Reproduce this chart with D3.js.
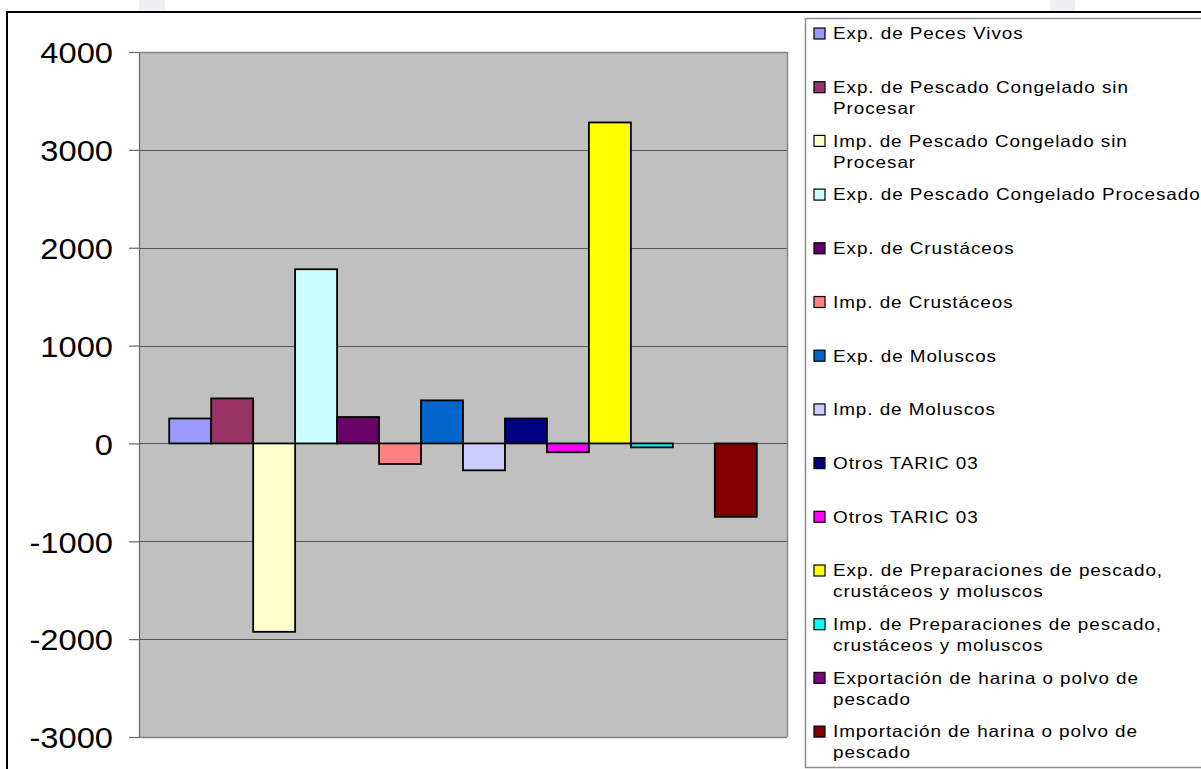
<!DOCTYPE html>
<html>
<head>
<meta charset="utf-8">
<script src="https://cdn.jsdelivr.net/npm/d3@7"></script>
<style>
  html, body { margin: 0; padding: 0; background: #fff; }
  svg { display: block; font-family: "Liberation Sans", Arial, sans-serif; }
</style>
</head>
<body>
<svg id="chart" width="1201" height="769"></svg>
<script>
// Series names (legend order), one bar per series
const seriesNames = [
  ["Exp. de Peces Vivos"],
  ["Exp. de Pescado Congelado sin", "Procesar"],
  ["Imp. de Pescado Congelado sin", "Procesar"],
  ["Exp. de Pescado Congelado Procesado"],
  ["Exp. de Crustáceos"],
  ["Imp. de Crustáceos"],
  ["Exp. de Moluscos"],
  ["Imp. de Moluscos"],
  ["Otros TARIC 03"],
  ["Otros TARIC 03"],
  ["Exp. de Preparaciones de pescado,", "crustáceos y moluscos"],
  ["Imp. de Preparaciones de pescado,", "crustáceos y moluscos"],
  ["Exportación de harina o polvo de", "pescado"],
  ["Importación de harina o polvo de", "pescado"]
];
const seriesValues = [255, 460, -1925, 1780, 270, -210, 440, -275, 255, -90, 3280, -40, 0, -750];
const seriesColors = ["#9999FF", "#993366", "#FFFFCC", "#CCFFFF", "#660066", "#FF8080", "#0066CC",
                      "#CCCCFF", "#000080", "#FF00FF", "#FFFF00", "#00FFFF", "#800080", "#800000"];
const yTicks = [-3000, -2000, -1000, 0, 1000, 2000, 3000, 4000];
const yTickLabels = ["-3000", "-2000", "-1000", "0", "1000", "2000", "3000", "4000"];

const svg = d3.select("#chart");

// faint page patches along the top edge
svg.append("rect").attr("x", 139).attr("y", 0).attr("width", 26).attr("height", 11).attr("fill", "#f0eff3");
svg.append("rect").attr("x", 1050).attr("y", 0).attr("width", 25).attr("height", 11).attr("fill", "#f0eff3");

// outer chart frame
svg.append("rect")
  .attr("x", 7).attr("y", 12).attr("width", 1300).attr("height", 900)
  .attr("fill", "#fff").attr("stroke", "#000").attr("stroke-width", 2);

const plot = { left: 139, right: 787, top: 52, bottom: 737 };

const y = d3.scaleLinear().domain([-3000, 4000]).range([plot.bottom, plot.top]);
const x = d3.scaleBand()
  .domain(d3.range(seriesValues.length))
  .range([plot.left, plot.right])
  .paddingInner(0)
  .paddingOuter(0.72);

// plot area background
svg.append("rect")
  .attr("x", plot.left).attr("y", plot.top)
  .attr("width", plot.right - plot.left).attr("height", plot.bottom - plot.top)
  .attr("fill", "#C0C0C0");

// horizontal gridlines
svg.append("g")
  .selectAll("line")
  .data(yTicks)
  .join("line")
  .attr("x1", plot.left).attr("x2", plot.right)
  .attr("y1", d => Math.round(y(d)) + 0.5).attr("y2", d => Math.round(y(d)) + 0.5)
  .attr("stroke", d => d === 4000 || d === -3000 ? "#808080" : "#555")
  .attr("stroke-width", d => d === 4000 || d === -3000 ? 1.5 : 1);

// right edge of plot area
svg.append("line")
  .attr("x1", plot.right + 0.5).attr("x2", plot.right + 0.5)
  .attr("y1", plot.top).attr("y2", plot.bottom)
  .attr("stroke", "#8a8a8a").attr("stroke-width", 1.5);

// bars
svg.append("g")
  .selectAll("rect")
  .data(seriesValues)
  .join("rect")
  .attr("x", (d, i) => x(i))
  .attr("width", x.bandwidth())
  .attr("y", d => y(Math.max(0, d)))
  .attr("height", d => Math.abs(y(d) - y(0)))
  .attr("fill", (d, i) => seriesColors[i])
  .attr("stroke", "#000")
  .attr("stroke-width", d => d === 0 ? 0 : 1.8);

// y axis
const yAxis = d3.axisLeft(y)
  .tickValues(yTicks)
  .tickFormat((d, i) => yTickLabels[i])
  .tickSize(10).tickSizeOuter(0).tickPadding(16);
const gy = svg.append("g").attr("transform", `translate(${plot.left},0)`).call(yAxis);
gy.select(".domain").attr("stroke", "#666").attr("stroke-width", 1.2);
gy.selectAll(".tick line").attr("stroke", "#666").attr("stroke-width", 1.2);
gy.selectAll(".tick text")
  .attr("fill", "#000")
  .style("font-size", "30px")
  .attr("dy", "0.36em")
  .attr("x", 0)
  .attr("transform", "translate(-26,0) scale(1.09,1)");

// legend box
svg.append("rect")
  .attr("x", 805.5).attr("y", 18.5).attr("width", 500).attr("height", 749)
  .attr("fill", "#fff").attr("stroke", "#8c8c8c").attr("stroke-width", 1.5);

const legend = svg.append("g");
const entry = legend.selectAll("g")
  .data(seriesNames)
  .join("g")
  .attr("transform", (d, i) => `translate(0,${33.5 + i * 53.7})`);

entry.append("rect")
  .attr("x", 814).attr("y", -5.5)
  .attr("width", 11).attr("height", 11)
  .attr("fill", (d, i) => seriesColors[i])
  .attr("stroke", "#000").attr("stroke-width", 1.2);

entry.each(function(lines) {
  const g = d3.select(this).append("g").attr("transform", "translate(833,0) scale(1.16,1)");
  g.selectAll("text")
    .data(lines)
    .join("text")
    .attr("x", 0)
    .attr("y", (d, j) => j * 21)
    .attr("dy", "0.36em")
    .style("font-size", "16.3px")
    .style("letter-spacing", "0.8px")
    .attr("fill", "#000")
    .text(d => d);
});
</script>
</body>
</html>
